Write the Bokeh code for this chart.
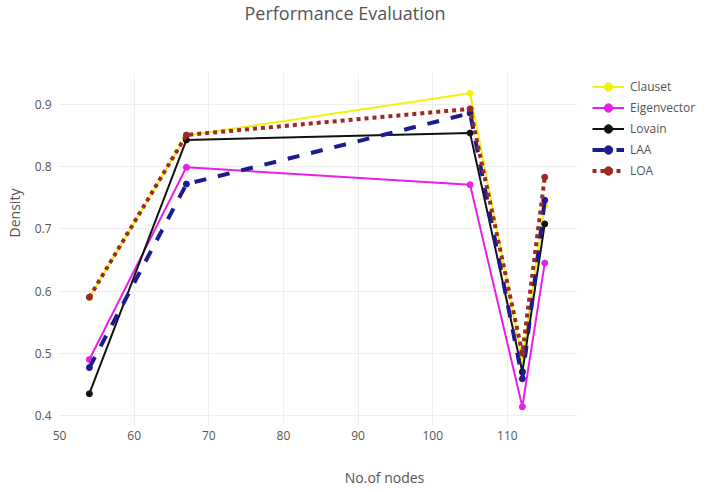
from bokeh.plotting import figure
from bokeh.models import Range1d, Legend, LegendItem, Label
from bokeh.embed import file_html
from bokeh.resources import INLINE

nodes = [54, 67, 105, 112, 115]
clauset = [0.590, 0.850, 0.918, 0.490, 0.738]
eigenvector = [0.490, 0.799, 0.771, 0.414, 0.645]
lovain = [0.435, 0.843, 0.854, 0.470, 0.708]
laa = [0.477, 0.772, 0.886, 0.459, 0.746]
loa = [0.590, 0.851, 0.893, 0.500, 0.783]

x_ticks = [50, 60, 70, 80, 90, 100, 110]
y_ticks = [0.4, 0.5, 0.6, 0.7, 0.8, 0.9]

series = [
    ("Clauset", clauset, "#f2f20a", 2, "solid"),
    ("Eigenvector", eigenvector, "#e81fe8", 2, "solid"),
    ("Lovain", lovain, "#111111", 2, "solid"),
    ("LAA", laa, "#1c1c8e", 4, "12 12"),
    ("LOA", loa, "#9c2a24", 4, "4 4"),
]

FONT = "Open Sans"

# visible plot box (grid extent); the frame extends further up and right
# so that the title and the legend can live inside it
X0, X1 = 50, 119.4
Y0, Y1 = 0.3839, 0.95
X_END = 137.07
Y_END = 1.0672

p = figure(width=709, height=492, output_backend="svg", toolbar_location=None,
           x_range=Range1d(X0, X_END), y_range=Range1d(Y0, Y_END),
           min_border_left=59, min_border_right=0, min_border_top=0, min_border_bottom=67)
p.outline_line_color = None
p.background_fill_color = "white"
p.border_fill_color = "white"

for ax in (p.xaxis[0], p.yaxis[0]):
    ax.axis_line_color = None
    ax.major_tick_line_color = None
    ax.minor_tick_line_color = None
    ax.major_tick_out = 0
    ax.major_tick_in = 0
    ax.major_label_text_font = FONT
    ax.major_label_text_font_size = "12px"
    ax.major_label_text_color = "#555555"
    ax.axis_label_text_font = FONT
    ax.axis_label_text_font_size = "14px"
    ax.axis_label_text_font_style = "normal"
    ax.axis_label_text_color = "#555555"

p.xaxis.ticker = x_ticks
p.yaxis.ticker = y_ticks
p.xaxis.major_label_standoff = 5
p.yaxis.major_label_standoff = 8
p.xaxis.axis_label = "No.of nodes"
p.yaxis.axis_label = "Density"
p.xaxis.axis_label_standoff = 25
p.yaxis.axis_label_standoff = 8
p.grid.grid_line_color = "#eeeeee"
p.grid.grid_line_width = 1
p.xgrid.cross_bounds = (Y0, Y1)
p.ygrid.cross_bounds = (X0, X1)

items = []
for name, vals, color, w, dash in series:
    r1 = p.line(nodes, vals, line_color=color, line_width=w, line_dash=dash)
    r2 = p.scatter(nodes, vals, size=6, fill_color=color, line_color=color)
    items.append(LegendItem(label=name, renderers=[r1, r2]))

legend = Legend(items=items, location=(533, 244),
                label_text_font=FONT, label_text_font_size="12px", label_text_color="#555555",
                border_line_color=None, background_fill_alpha=0,
                margin=0, padding=3, spacing=0, label_height=21, glyph_height=21,
                glyph_width=32, label_standoff=6)
p.add_layout(legend)

title = Label(x=(X0 + X1) / 2 + 3.55, y=Y_END, text="Performance Evaluation",
              text_align="center", text_baseline="top", text_font=FONT,
              text_font_size="18px", text_color="#555555")
p.add_layout(title)

open("out.html", "w").write(file_html(p, INLINE))
